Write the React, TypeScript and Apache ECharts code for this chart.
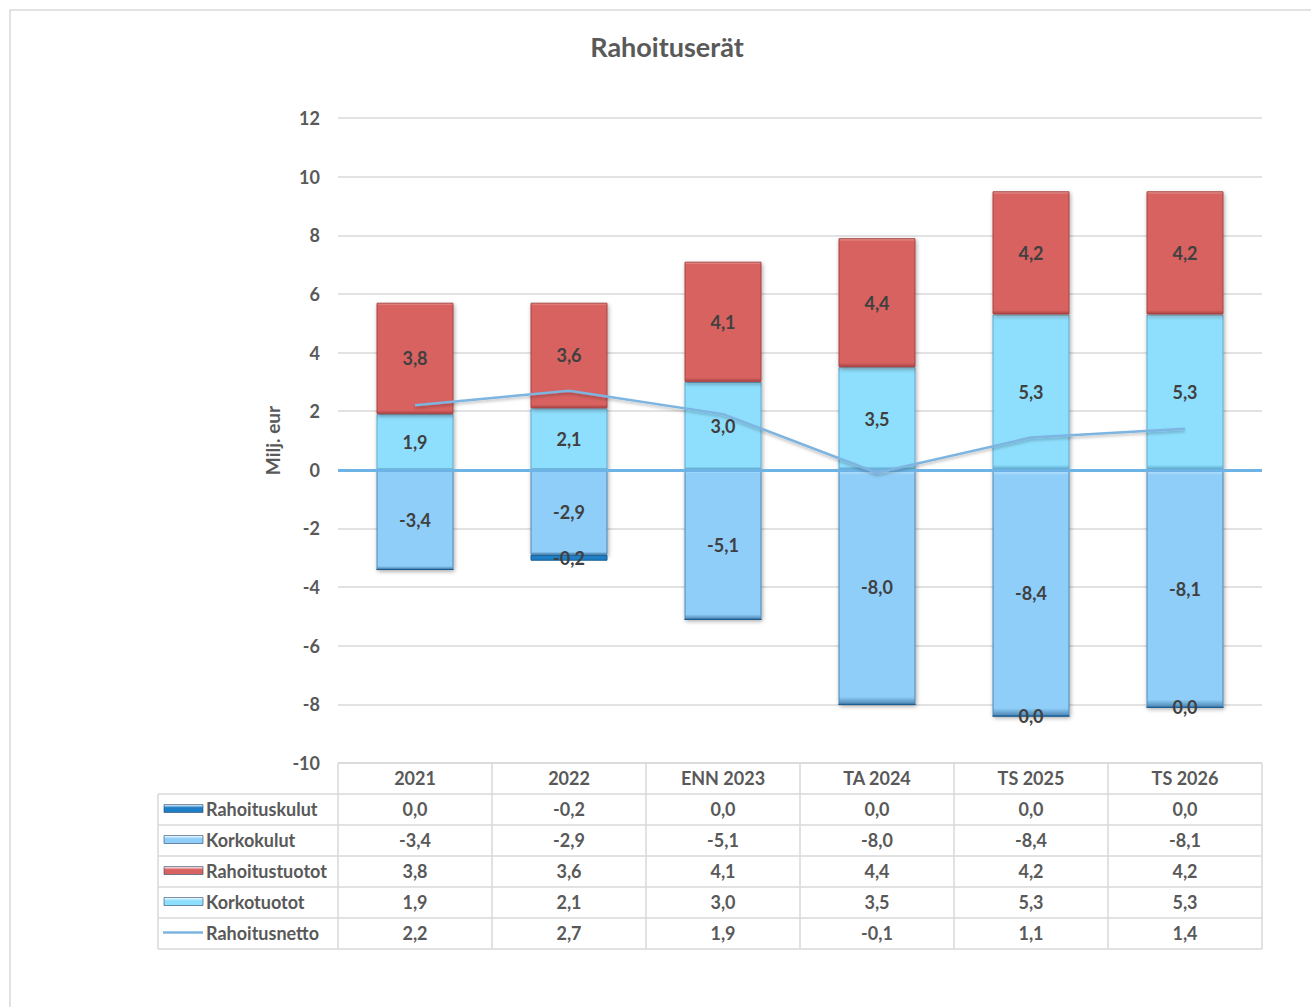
import React, { useEffect, useRef } from "react";
import * as echarts from "echarts";

const categories = ["2021", "2022", "ENN 2023", "TA 2024", "TS 2025", "TS 2026"];
const rahoituskulut = [0.0, -0.2, 0.0, 0.0, 0.0, 0.0];
const rahoituskulutLabelShown = [false, true, false, false, true, true];
const korkokulut = [-3.4, -2.9, -5.1, -8.0, -8.4, -8.1];
const rahoitustuotot = [3.8, 3.6, 4.1, 4.4, 4.2, 4.2];
const korkotuotot = [1.9, 2.1, 3.0, 3.5, 5.3, 5.3];
const rahoitusnetto = [2.2, 2.7, 1.9, -0.1, 1.1, 1.4];
const yTicks = { min: -10, max: 12, interval: 2 };

const FONT = "Lato, 'Open Sans', sans-serif";
const TXT = "#595959";
const FS = 18;
const fmt = (v: number) => v.toFixed(1).replace(".", ",");

const COLORS = {
  rahoituskulut: "#1E7FC6",
  korkokulut: "#8ECEF9",
  rahoitustuotot: "#D86260",
  korkotuotot: "#8EDFFE",
  netto: "#7DB4E0",
};

const bevel = (color: string, light: string, dark: string) =>
  new echarts.graphic.LinearGradient(0, 0, 0, 1, [
    { offset: 0, color: light },
    { offset: 0.02, color: color },
    { offset: 0.97, color: color },
    { offset: 1, color: dark },
  ]);

export default function App() {
  const ref = useRef<HTMLDivElement>(null);
  useEffect(() => {
    if (!ref.current) return;
    const chart = echarts.init(ref.current, undefined, { renderer: "svg" });
    const gridLeft = 338;
    const gridRight = 1262;
    const gridTop = 118;
    const gridBottom = 763;
    const colW = (gridRight - gridLeft) / categories.length;
    const rowH = 31;
    const legendLeft = 158;

    const rows = [
      { name: "Rahoituskulut", data: rahoituskulut, color: COLORS.rahoituskulut, line: false },
      { name: "Korkokulut", data: korkokulut, color: COLORS.korkokulut, line: false },
      { name: "Rahoitustuotot", data: rahoitustuotot, color: COLORS.rahoitustuotot, line: false },
      { name: "Korkotuotot", data: korkotuotot, color: COLORS.korkotuotot, line: false },
      { name: "Rahoitusnetto", data: rahoitusnetto, color: COLORS.netto, line: true },
    ];

    const g: any[] = [];
    g.push({
      type: "rect",
      shape: { x: 10, y: 10, width: 1400, height: 1100 },
      style: { fill: "none", stroke: "#D9D9D9", lineWidth: 1.5 },
      silent: true,
    });
    g.push({
      type: "text",
      x: 667,
      y: 46,
      style: { text: "Rahoituserät", fill: TXT, font: `bold 27px ${FONT}`, align: "center", verticalAlign: "middle" },
    });
    const gridStroke = { stroke: "#D9D9D9", lineWidth: 1.5 };
    const tableBottom = gridBottom + rowH * (rows.length + 1);
    g.push({ type: "line", shape: { x1: gridLeft, y1: gridBottom, x2: gridRight, y2: gridBottom }, style: gridStroke });
    for (let r = 1; r <= rows.length + 1; r++) {
      const y = gridBottom + r * rowH;
      g.push({ type: "line", shape: { x1: legendLeft, y1: y, x2: gridRight, y2: y }, style: gridStroke });
    }
    g.push({ type: "line", shape: { x1: legendLeft, y1: gridBottom + rowH, x2: legendLeft, y2: tableBottom }, style: gridStroke });
    for (let c = 0; c <= categories.length; c++) {
      const x = gridLeft + c * colW;
      g.push({ type: "line", shape: { x1: x, y1: gridBottom, x2: x, y2: tableBottom }, style: gridStroke });
    }
    categories.forEach((cat, c) => {
      g.push({
        type: "text",
        x: gridLeft + (c + 0.5) * colW,
        y: gridBottom + rowH / 2 - 1,
        style: { text: cat, fill: TXT, font: `bold ${FS}px ${FONT}`, align: "center", verticalAlign: "middle" },
      });
    });
    rows.forEach((row, r) => {
      const cy = gridBottom + (r + 1.5) * rowH - 1;
      if (row.line) {
        g.push({ type: "line", shape: { x1: 163, y1: cy, x2: 203, y2: cy }, style: { stroke: row.color, lineWidth: 2.5 } });
      } else {
        g.push({
          type: "rect",
          shape: { x: 164, y: cy - 4, width: 39, height: 8 },
          style: {
            fill: new echarts.graphic.LinearGradient(0, 0, 0, 1, [
              { offset: 0, color: "#FFFFFF" },
              { offset: 0.4, color: row.color },
              { offset: 1, color: row.color },
            ]),
            stroke: "rgba(40,70,110,0.6)",
            lineWidth: 1,
          },
        });
      }
      g.push({
        type: "text",
        x: 206,
        y: cy,
        style: { text: row.name, fill: TXT, font: `bold ${FS}px ${FONT}`, align: "left", verticalAlign: "middle" },
      });
      row.data.forEach((v, c) => {
        g.push({
          type: "text",
          x: gridLeft + (c + 0.5) * colW,
          y: cy,
          style: { text: fmt(v), fill: TXT, font: `bold ${FS}px ${FONT}`, align: "center", verticalAlign: "middle" },
        });
      });
    });

    const barStyle = (color: string, light: string, border: string) => ({
      color: bevel(color, light, border),
      borderColor: border,
      borderWidth: 1,
      shadowBlur: 4,
      shadowColor: "rgba(0,0,0,0.35)",
      shadowOffsetX: 1,
      shadowOffsetY: 2,
    });
    const barLabel = {
      show: true,
      position: "inside",
      color: "#404040",
      fontFamily: FONT,
      fontWeight: "bold",
      fontSize: FS,
      formatter: (p: any) => fmt(typeof p.value === "number" ? p.value : p.data.value),
    };

    chart.setOption({
      animation: false,
      grid: { left: gridLeft, right: 1311 - gridRight, top: gridTop, bottom: 1007 - gridBottom, containLabel: false },
      xAxis: {
        type: "category",
        data: categories,
        axisLine: { show: false },
        axisTick: { show: false },
        axisLabel: { show: false },
      },
      yAxis: {
        type: "value",
        min: yTicks.min,
        max: yTicks.max,
        interval: yTicks.interval,
        name: "Milj. eur",
        nameLocation: "middle",
        nameGap: 54,
        nameTextStyle: { color: TXT, fontFamily: FONT, fontWeight: "bold", fontSize: 19 },
        axisLine: { show: false },
        axisTick: { show: false },
        axisLabel: { color: TXT, fontFamily: FONT, fontWeight: "bold", fontSize: FS, margin: 18 },
        splitLine: { lineStyle: { color: "#D9D9D9", width: 1.5 } },
      },
      graphic: g,
      series: [
        {
          name: "Korkotuotot",
          type: "bar",
          stack: "a",
          barWidth: 77,
          data: korkotuotot,
          itemStyle: barStyle(COLORS.korkotuotot, "#C8F2FF", "#5FA9CF"),
          label: barLabel,
        },
        {
          name: "Rahoitustuotot",
          type: "bar",
          stack: "a",
          data: rahoitustuotot,
          itemStyle: barStyle(COLORS.rahoitustuotot, "#EBA3A2", "#A84443"),
          label: barLabel,
        },
        {
          name: "Korkokulut",
          type: "bar",
          stack: "a",
          data: korkokulut,
          itemStyle: barStyle(COLORS.korkokulut, "#C4E6FC", "#4F87B5"),
          label: barLabel,
        },
        {
          name: "Rahoituskulut",
          type: "bar",
          stack: "a",
          data: rahoituskulut.map((v, i) => ({ value: v, label: { show: rahoituskulutLabelShown[i] } })),
          itemStyle: { color: COLORS.rahoituskulut, borderColor: "#185E93", borderWidth: 1 },
          label: barLabel,
        },
        {
          name: "Rahoitusnetto",
          type: "line",
          data: rahoitusnetto,
          showSymbol: false,
          symbol: "none",
          z: 5,
          lineStyle: { color: COLORS.netto, width: 2.5, shadowBlur: 3, shadowColor: "rgba(0,0,0,0.25)", shadowOffsetY: 2 },
          markLine: {
            silent: true,
            symbol: "none",
            label: { show: false },
            lineStyle: { color: "#6DB3E6", width: 3, type: "solid" },
            data: [{ yAxis: 0 }],
          },
        },
      ],
    });
    return () => chart.dispose();
  }, []);
  return (
    <div
      ref={ref}
      style={{ position: "fixed", left: 0, top: 0, width: 1311, height: 1007, background: "#fff" }}
    />
  );
}
